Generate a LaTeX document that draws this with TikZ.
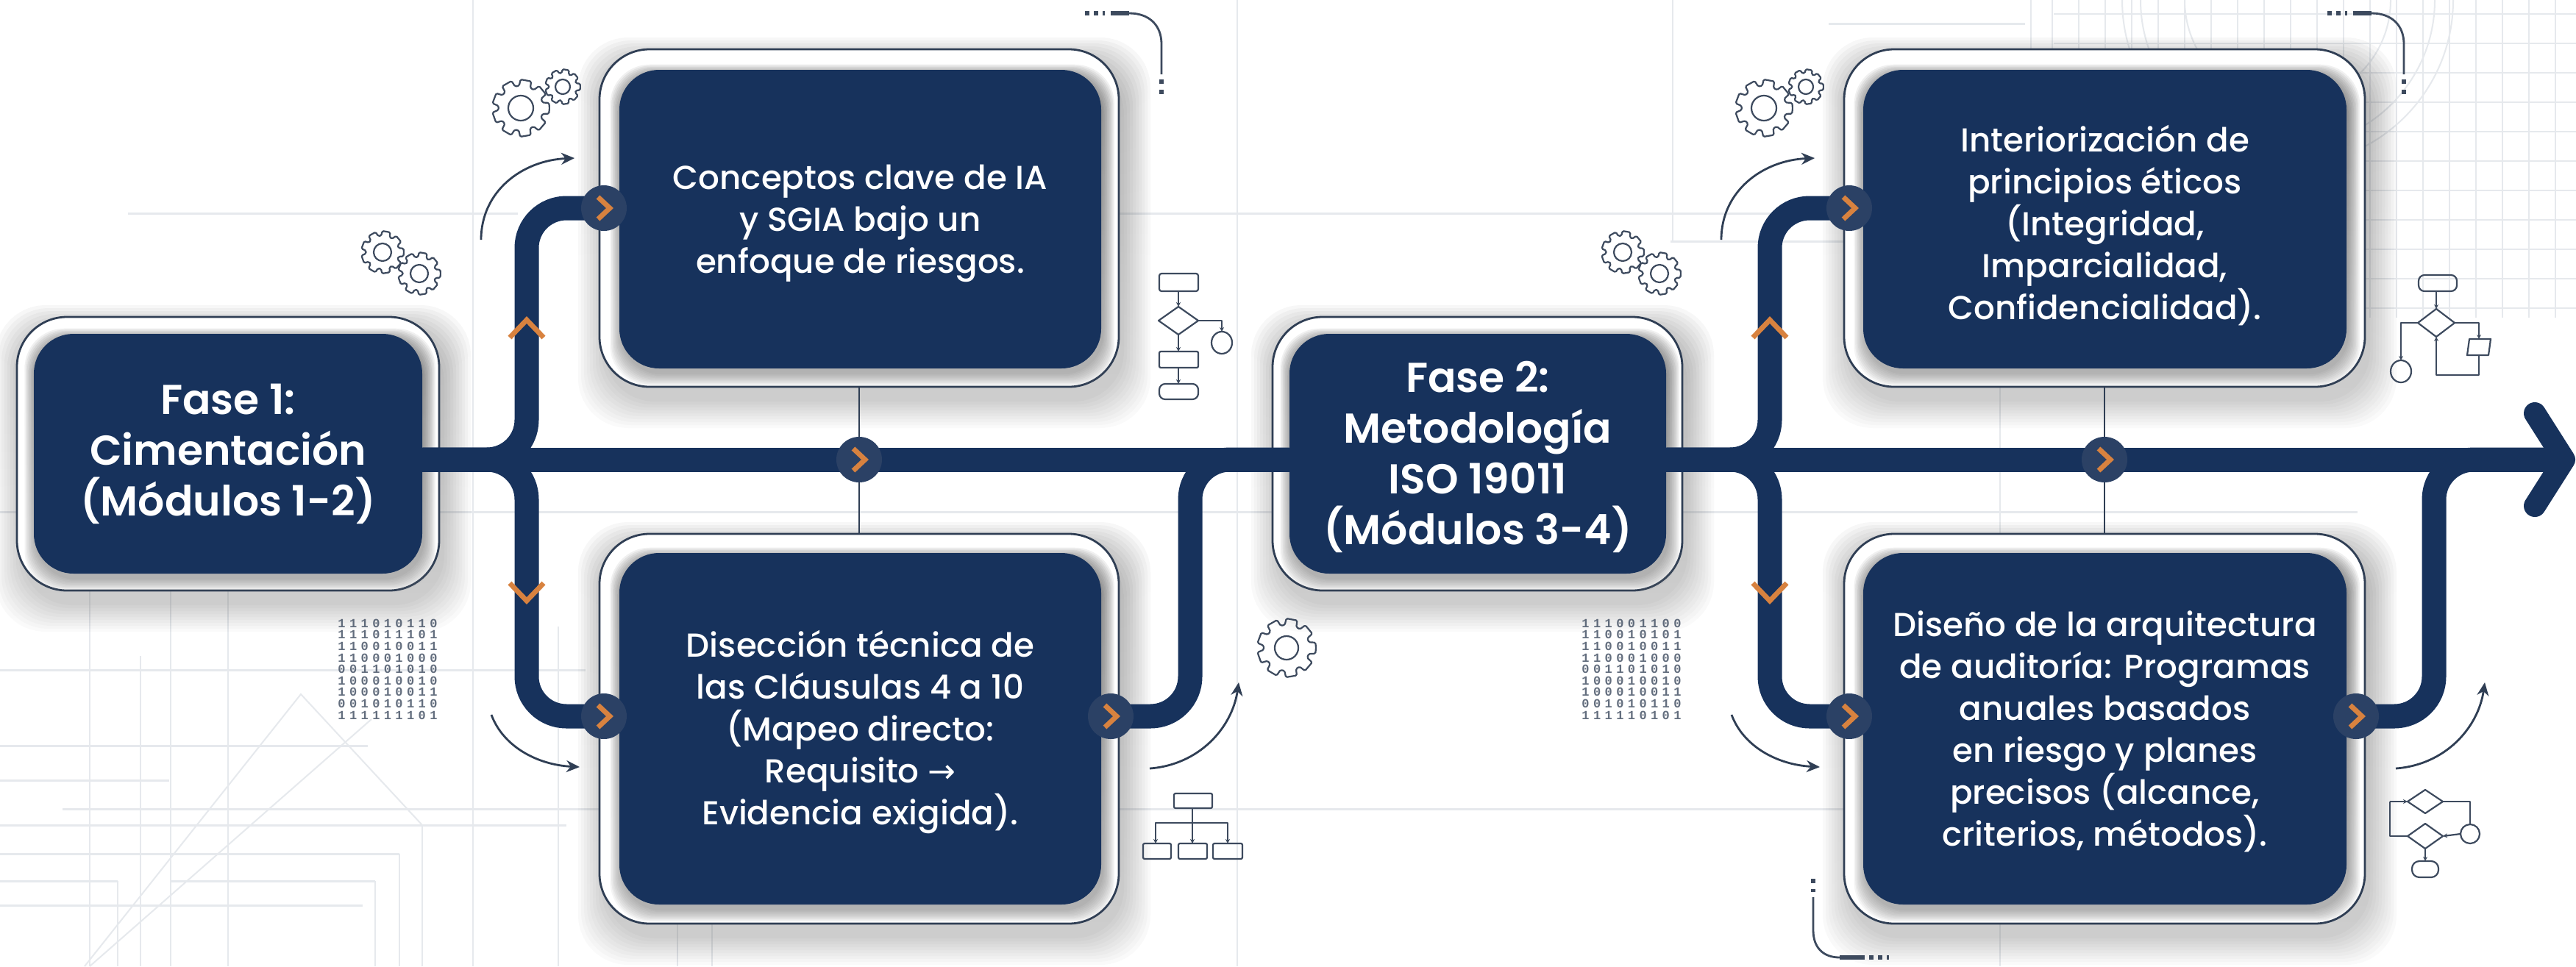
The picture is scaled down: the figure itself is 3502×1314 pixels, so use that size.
\documentclass[tikz,border=0pt]{standalone}
\usepackage{fontspec}
\setmainfont{Poppins Medium}[BoldFont={Poppins SemiBold}]
\newfontfamily\arrowfont{DejaVu Sans}
\newfontfamily\binfont[WordSpace=0.53]{Liberation Mono Bold}
\usetikzlibrary{arrows.meta,calc}
\definecolor{navy}{HTML}{17325C}
\definecolor{hub}{HTML}{2B4165}
\definecolor{amber}{HTML}{D8823F}
\definecolor{rim}{HTML}{2F3E54}
\definecolor{grid}{HTML}{E6E9ED}
\definecolor{icon}{HTML}{3D4A5E}
\definecolor{shade}{HTML}{1A2A4A}
\pgfdeclarelayer{bg}
\pgfdeclarelayer{conn}
\pgfsetlayers{bg,conn,main}
\tikzset{
  x=0.5pt,y=-0.5pt,
  bgline/.style={draw=grid,line width=1.5pt},
  bgthin/.style={draw=grid,line width=1pt},
  framebox/.style 2 args={draw=rim,fill=white,line width=1.4pt,rounded corners=34pt,inner sep=0pt,
     minimum width=#1*0.5pt,minimum height=#2*0.5pt},
  bodybox/.style 2 args={fill=navy,rounded corners=27pt,inner sep=0pt,
     minimum width=#1*0.5pt,minimum height=#2*0.5pt},
  bodytext/.style={text=white,inner sep=0pt,align=center,font=\fontsize{22.6}{28.5}\selectfont},
  phasetext/.style={text=white,inner sep=0pt,align=center,font=\fontsize{28.4}{34.5}\selectfont\bfseries},
  flow/.style={draw=navy,line width=16.5pt,rounded corners=27pt},
  tie/.style={draw=rim,line width=1.2pt},
  hubnode/.style={circle,fill=hub,minimum size=31pt,inner sep=0pt},
  chev/.style={draw=amber,line width=3.4pt,line cap=butt,line join=miter},
  curvearrow/.style={draw=rim,line width=1.4pt,-{Stealth[length=9pt,width=8pt]}},
  iconline/.style={draw=icon,line width=1.1pt,line join=round},
  iconarrow/.style={iconline,-{Stealth[length=3pt,width=3pt]}},
  deco/.style={draw=icon,line width=1.4pt},
  decothick/.style={draw=icon,line width=3pt},
  binary/.style={text=icon,text opacity=.8,inner sep=0pt,align=center,
     font=\fontsize{8.5}{7.8}\binfont},
}
% soft layered shadow: x1 y1 x2 y2 radius(pt) step(px) shift(px) opacity
\newcommand\softshadow[8]{%
  \foreach \k in {0,...,9}{%
    \fill[shade,fill opacity=#8,rounded corners=#5]
      (#1-\k*#6+#7*.35,#2-\k*#6+#7) rectangle (#3+\k*#6+#7*.35,#4+\k*#6+#7);
  }}
% gear: cx cy r hole teeth
\newcommand\gearicon[5]{%
  \draw[iconline,rounded corners=.8pt,shift={(#1,#2)}]
    (0:#3)
    \foreach \i [evaluate=\i as \a using \i*360/#5] in {1,...,#5}{
      -- (\a-360/#5*.72:#3) -- (\a-360/#5*.62:#3*.78) -- (\a-360/#5*.36:#3*.78) -- (\a-360/#5*.26:#3)
    } -- cycle;
  \draw[iconline] (#1,#2) circle[radius=#4];}
\newcommand\hubchev[1]{%
  \draw[chev] ([shift={(-8,-15)}]#1.center) -- ([shift={(8,0)}]#1.center) -- ([shift={(-8,15)}]#1.center);}
\begin{document}
\begin{tikzpicture}
\useasboundingbox (0,0) rectangle (3502,1314);
\begin{pgfonlayer}{bg}
\fill[white] (0,0) rectangle (3502,1314);
% background drafting lines
\foreach \x/\a/\b in {122/780/1314,232/780/1314,310/780/1314,191/892/1314,643/0/1314,759/852/1314,574/1122/1314,
   543/1161/1314,160/1198/1314,510/1198/1314,921/1230/1314,968/1230/1314,1682/0/1314,2274/0/328,2719/501/1314,2761/0/110}
  \draw[bgthin] (\x,\a) -- (\x,\b);
\foreach \y/\a/\b in {290/174/704,290/1521/2507,328/2271/2507,696/0/3205,911/0/796,1014/0/500,1061/0/230,1100/85/2530,
   1122/0/770,1161/0/543,1198/0/160,1198/232/510,1231/0/493,32/2486/2753}
  \draw[bgline] (\a,\y) -- (\b,\y);
\draw[bgthin] (115,1314) -- (409,944) -- (574,1122);
\draw[bgthin] (122,1314) -- (505,978);
% grid, upper right
\foreach \x in {2790,2826,...,3502} \draw[bgthin] (\x,0) -- (\x,432);
\foreach \y in {19,59,...,430} \draw[bgthin] (2792,\y) -- (3502,\y);
\foreach \r in {225,200,140} \draw[bgthin] (3110,0) circle[radius=\r];
% frames with their shadows
\softshadow{23}{431}{597}{803}{34pt}{4}{20}{.018}
\softshadow{815}{67}{1521}{526}{34pt}{4}{20}{.018}
\softshadow{815}{726}{1521}{1256}{34pt}{4}{20}{.018}
\softshadow{1730}{431}{2287}{803}{34pt}{4}{20}{.018}
\softshadow{2507}{67}{3215}{526}{34pt}{4}{20}{.018}
\softshadow{2507}{726}{3215}{1256}{34pt}{4}{20}{.018}
\node[framebox={574}{372}] (of1) at (310,617) {};
\node[framebox={706}{459}] (ot1) at (1168,296.5) {};
\node[framebox={706}{530}] (ob1) at (1168,991) {};
\node[framebox={557}{372}] (of2) at (2008.5,617) {};
\node[framebox={708}{459}] (ot2) at (2861,296.5) {};
\node[framebox={708}{530}] (ob2) at (2861,991) {};
\softshadow{46}{454}{574}{780}{27pt}{1.7}{8}{.04}
\softshadow{842}{95}{1497}{501}{27pt}{1.7}{8}{.04}
\softshadow{842}{752}{1497}{1230}{27pt}{1.7}{8}{.04}
\softshadow{1753}{454}{2265}{780}{27pt}{1.7}{8}{.04}
\softshadow{2533}{95}{3190}{501}{27pt}{1.7}{8}{.04}
\softshadow{2533}{752}{3190}{1230}{27pt}{1.7}{8}{.04}
\end{pgfonlayer}
% inner boxes
\node[bodybox={528}{326}] (f1) at (310,617) {};
\node[bodybox={655}{406}] (t1) at (1169.5,298) {};
\node[bodybox={655}{478}] (b1) at (1169.5,991) {};
\node[bodybox={512}{326}] (f2) at (2009,617) {};
\node[bodybox={657}{406}] (t2) at (2861.5,298) {};
\node[bodybox={657}{478}] (b2) at (2861.5,991) {};
\node[phasetext] (f1x) at ([shift={(0,0)}]f1.center) {Fase 1:\\Cimentación\\(Módulos 1-2)};
\node[bodytext] (t1x) at ([shift={(0,6)}]t1.center) {Conceptos clave de IA\\y SGIA bajo un\\enfoque de riesgos.};
\node[bodytext] (b1x) at ([shift={(0,4)}]b1.center) {Disección técnica de\\las Cláusulas 4 a 10\\(Mapeo directo:\\Requisito {\arrowfont →}\\Evidencia exigida).};
\node[phasetext] (f2x) at ([shift={(0,4)}]f2.center) {Fase 2:\\Metodología\\ISO 19011\\(Módulos 3-4)};
\node[bodytext] (t2x) at ([shift={(0,8)}]t2.center) {Interiorización de\\principios éticos\\(Integridad,\\Imparcialidad,\\Confidencialidad).};
\node[bodytext] (b2x) at ([shift={(0,4)}]b2.center) {Diseño de la arquitectura\\de auditoría: Programas\\anuales basados\\en riesgo y planes\\precisos (alcance,\\criterios, métodos).};
% hubs
\node[hubnode] (h1t) at (821,283) {};
\node[hubnode] (h1b) at (821,974) {};
\node[hubnode] (h1m) at (1168,625) {};
\node[hubnode] (h1x) at (1510,974) {};
\node[hubnode] (h2t) at (2514,283) {};
\node[hubnode] (h2b) at (2514,974) {};
\node[hubnode] (h2m) at (2861,625) {};
\node[hubnode] (h2x) at (3203,974) {};
\foreach \n in {h1t,h1b,h1m,h1x,h2t,h2b,h2m,h2x} \hubchev{\n}
\coordinate (s1) at (716,625);
\coordinate (x1) at (1618,625);
\coordinate (s2) at (2406,625);
\coordinate (x2) at (3309,625);
\coordinate (tip) at (3486,625);
\coordinate (aU) at (3446,562);
\coordinate (aD) at (3446,688);
\begin{pgfonlayer}{conn}
\draw[tie] (ot1.south) -- (h1m.center) -- (ob1.north);
\draw[tie] (ot2.south) -- (h2m.center) -- (ob2.north);
\draw[flow,rounded corners=0pt] (f1.east |- s1) -- (f2.west |- s1);
\draw[flow,rounded corners=0pt] (f2.east |- s1) -- (tip);
\draw[flow] (f1.east |- s1) -- (s1) -- (s1 |- h1t.center) -- (h1t.center);
\draw[flow] (f1.east |- s1) -- (s1) -- (s1 |- h1b.center) -- (h1b.center);
\draw[flow] (h1x.center) -- (x1 |- h1x.center) -- (x1) -- (f2.west |- s1);
\draw[flow] (f2.east |- s1) -- (s2) -- (s2 |- h2t.center) -- (h2t.center);
\draw[flow] (f2.east |- s1) -- (s2) -- (s2 |- h2b.center) -- (h2b.center);
\draw[flow] (h2x.center) -- (x2 |- h2x.center) -- (x2) -- (tip);
\draw[draw=navy,line width=15pt,line cap=round,line join=round] (aU) -- (tip) -- (aD);
\end{pgfonlayer}
% orange chevrons on the risers
\foreach \x in {716,2406}{
  \draw[chev] (\x-23,459) -- (\x,435) -- (\x+23,459);
  \draw[chev] (\x-23,793) -- (\x,817) -- (\x+23,793);
}
% curved arrows
\foreach \dx/\ex in {0/0,1686/0}{
  \draw[curvearrow] (654+\dx,326) .. controls (654+\dx,260) and (710+\dx,218) .. (781+\dx,215);
  \draw[curvearrow] (668+\dx,972) .. controls (684+\dx,1015) and (730+\dx,1040) .. (788+\dx,1043);
}
\foreach \dx in {0,1694}
  \draw[curvearrow] (1563+\dx,1045) .. controls (1630+\dx,1040) and (1675+\dx,990) .. (1684+\dx,928);
% gears
\gearicon{708}{147}{39}{17}{9}
\gearicon{765}{118}{24}{10}{9}
\gearicon{520}{343}{29}{12}{9}
\gearicon{570}{372}{29}{12}{9}
\gearicon{2398}{147}{39}{17}{9}
\gearicon{2455}{118}{24}{10}{9}
\gearicon{2206}{343}{29}{12}{9}
\gearicon{2256}{372}{29}{12}{9}
\gearicon{1749}{881}{40}{16}{9}
% binary blocks
\node[binary] (bin1) at (527,910) {1 1 1 0 1 0 1 1 0\\1 1 1 0 1 1 1 0 1\\1 1 0 0 1 0 0 1 1\\1 1 0 0 0 1 0 0 0\\0 0 1 1 0 1 0 1 0\\1 0 0 0 1 0 0 1 0\\1 0 0 0 1 0 0 1 1\\0 0 1 0 1 0 1 1 0\\1 1 1 1 1 1 1 0 1};
\node[binary] (bin2) at (2218,910) {1 1 1 0 0 1 1 0 0\\1 1 0 0 1 0 1 0 1\\1 1 0 0 1 0 0 1 1\\1 1 0 0 0 1 0 0 0\\0 0 1 1 0 1 0 1 0\\1 0 0 0 1 0 0 1 0\\1 0 0 0 1 0 0 1 1\\0 0 1 0 1 0 1 1 0\\1 1 1 1 1 0 1 0 1};
% flowchart icon, first phase top
\draw[iconline,rounded corners=1.5pt] (1576,372) rectangle (1629,396);
\draw[iconline] (1602,417) -- (1629,436) -- (1602,455) -- (1575,436) -- cycle;
\draw[iconline,rounded corners=1pt] (1576,478) rectangle (1629,500);
\draw[iconline,rounded corners=4pt] (1576,522) rectangle (1629,543);
\draw[iconarrow] (1602,396) -- (1602,417);
\draw[iconarrow] (1602,455) -- (1602,478);
\draw[iconarrow] (1602,500) -- (1602,522);
\draw[iconarrow] (1629,436) -- (1661,436) -- (1661,451);
\draw[iconline] (1661,466) ellipse[x radius=14,y radius=15];
% tree icon
\draw[iconline,rounded corners=1pt] (1596,1079) rectangle (1648,1099);
\draw[iconline] (1621,1099) -- (1621,1147);
\draw[iconarrow] (1621,1119) -- (1621,1147);
\draw[iconarrow] (1621,1119) -- (1571,1119) -- (1571,1147);
\draw[iconarrow] (1621,1119) -- (1669,1119) -- (1669,1147);
\draw[iconline,rounded corners=1pt] (1554,1147) rectangle (1592,1168);
\draw[iconline,rounded corners=1pt] (1602,1147) rectangle (1641,1168);
\draw[iconline,rounded corners=1pt] (1649,1147) rectangle (1689,1168);
% flowchart icon, second phase top
\draw[iconline,rounded corners=4pt] (3288,374) rectangle (3340,396);
\draw[iconarrow] (3312,396) -- (3312,420);
\draw[iconline] (3312,420) -- (3337,439) -- (3312,458) -- (3287,439) -- cycle;
\draw[iconarrow] (3287,439) -- (3264,439) -- (3264,490);
\draw[iconline] (3264,505) ellipse[x radius=14,y radius=15];
\draw[iconarrow] (3337,439) -- (3370,439) -- (3370,461);
\draw[iconline] (3357,461) -- (3386,461) -- (3383,483) -- (3354,483) -- cycle;
\draw[iconarrow] (3370,483) -- (3370,510) -- (3312,510) -- (3312,458);
% flowchart icon, second phase bottom
\draw[iconline] (3297,1074) -- (3321,1090) -- (3297,1106) -- (3273,1090) -- cycle;
\draw[iconline] (3297,1120) -- (3321,1137) -- (3297,1154) -- (3273,1137) -- cycle;
\draw[iconline] (3321,1090) -- (3358,1090) -- (3358,1121);
\draw[iconline] (3358,1134) circle[radius=13];
\draw[iconarrow] (3345,1134) -- (3321,1137);
\draw[iconline] (3273,1137) -- (3249,1137) -- (3249,1090);
\draw[iconarrow] (3249,1090) -- (3273,1090);
\draw[iconarrow] (3297,1154) -- (3297,1171);
\draw[iconline,rounded corners=5pt] (3279,1171) rectangle (3315,1193);
% corner decorations
\foreach \dx in {0,1689}{
  \draw[decothick,dash pattern=on 3pt off 3pt] (1475+\dx,18) -- (1502+\dx,18);
  \draw[decothick] (1510+\dx,18) -- (1535+\dx,18);
  \draw[deco] (1535+\dx,18) .. controls (1562+\dx,18) and (1579+\dx,34) .. (1579+\dx,60) -- (1579+\dx,101);
  \draw[decothick,dash pattern=on 3pt off 4pt] (1579+\dx,108) -- (1579+\dx,130);
}
\draw[decothick,dash pattern=on 3pt off 4pt] (2465,1195) -- (2465,1213);
\draw[deco] (2465,1220) -- (2465,1265) .. controls (2465,1288) and (2478,1302) .. (2501,1302);
\draw[decothick] (2501,1302) -- (2535,1302);
\draw[decothick,dash pattern=on 3pt off 3pt] (2541,1302) -- (2568,1302);
\end{tikzpicture}
\end{document}
